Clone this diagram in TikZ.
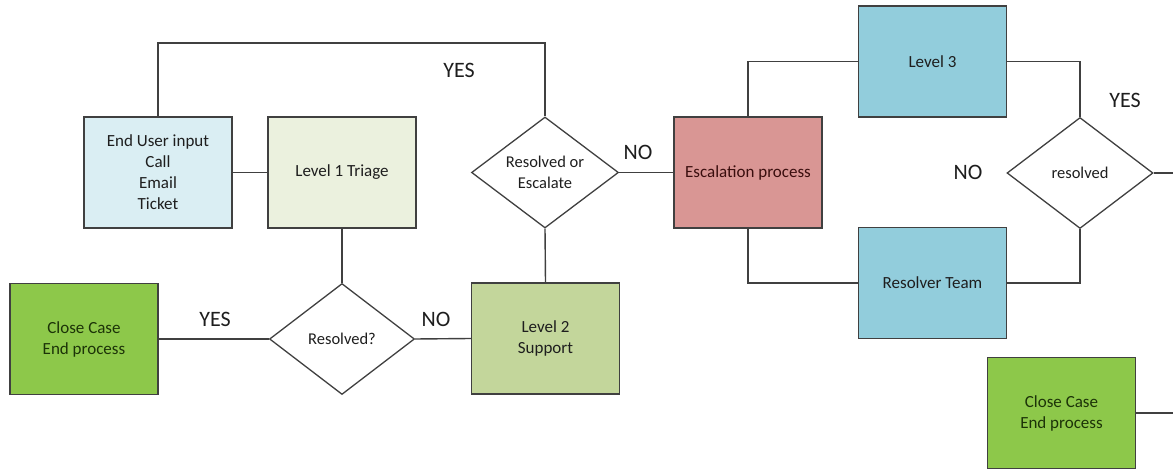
\documentclass[tikz,border=0pt]{standalone}
\usepackage{fontspec}
\setmainfont{Carlito}
\usetikzlibrary{shapes.geometric}
\definecolor{edgec}{HTML}{404040}
\definecolor{userc}{HTML}{DAEEF3}
\definecolor{triagec}{HTML}{EBF1DE}
\definecolor{escc}{HTML}{D99694}
\definecolor{lvlthreec}{HTML}{92CDDC}
\definecolor{closec}{HTML}{8DC84A}
\definecolor{lvltwoc}{HTML}{C3D69B}
\definecolor{txtc}{HTML}{1E1E1E}
\definecolor{esctxtc}{HTML}{3A0E0E}
\definecolor{closetxtc}{HTML}{1C3308}
\begin{document}
\begin{tikzpicture}[x=1pt,y=-1pt,
  boxnode/.style={draw=edgec,line width=1.5pt,rectangle,minimum width=148pt,minimum height=111pt,inner sep=0pt,align=center,text=txtc,font=\fontsize{17}{21}\selectfont},
  decnode/.style={draw=edgec,line width=1.3pt,diamond,shape aspect=1.32,minimum width=147pt,minimum height=111pt,inner sep=0pt,align=center,fill=white,text=txtc,font=\fontsize{16.5}{21}\selectfont},
  lbl/.style={inner sep=0pt,text=txtc,font=\fontsize{22}{24}\selectfont},
  conn/.style={draw=edgec,line width=1.4pt}]
\useasboundingbox (0,0) rectangle (1173,470);
% boxes
\node[boxnode,fill=userc] (user) at (158,172.5) {End User input\\Call\\Email\\Ticket};
\node[boxnode,fill=triagec] (tri) at (342,172.5) {Level 1 Triage};
\node[decnode] (reqs) at (545,172.5) {Resolved or\\Escalate};
\node[boxnode,fill=escc,text=esctxtc] (esc) at (748,172.5) {Escalation process};
\node[boxnode,fill=lvlthreec] (l3) at (932.5,61.5) {Level 3};
\node[decnode,minimum width=146pt] (res) at (1080,173) {resolved};
\node[boxnode,fill=lvlthreec] (rt) at (932.5,283) {Resolver Team};
\node[boxnode,fill=closec,text=closetxtc] (cc1) at (84,339) {Close Case\\End process};
\node[decnode,minimum width=145pt] (rq) at (342,339) {Resolved?};
\node[boxnode,fill=lvltwoc] (l2) at (545.5,338.5) {Level 2\\Support};
\node[boxnode,fill=closec,text=closetxtc] (cc2) at (1061.5,413) {Close Case\\End process};
% labels
\node[lbl] (yes1) at (459,70) {YES};
\node[lbl] (no1) at (638,152) {NO};
\node[lbl] (yes2) at (1125,100) {YES};
\node[lbl] (no2) at (968,172) {NO};
\node[lbl] (yes3) at (215,319) {YES};
\node[lbl] (no3) at (436,319) {NO};
% helper coordinates
\coordinate (topy) at (0,43);
\coordinate (edgeA) at (1173,173);
\coordinate (edgeB) at (1173,413);
% connectors
\draw[conn] (user.north) -- (user.north |- topy) -- (reqs.north |- topy) -- (reqs.north);
\draw[conn] (user.east) -- (tri.west);
\draw[conn] (tri.south) -- (rq.north);
\draw[conn] (rq.west) -- (cc1.east);
\draw[conn] (rq.east) -- (l2.west);
\draw[conn] (l2.north) -- (reqs.south);
\draw[conn] (reqs.east) -- (esc.west);
\draw[conn] (esc.north) |- (l3.west);
\draw[conn] (esc.south) |- (rt.west);
\draw[conn] (l3.east) -| (res.north);
\draw[conn] (rt.east) -| (res.south);
\draw[conn] (res.east) -- (edgeA);
\draw[conn] (cc2.east) -- (edgeB);
\end{tikzpicture}
\end{document}
